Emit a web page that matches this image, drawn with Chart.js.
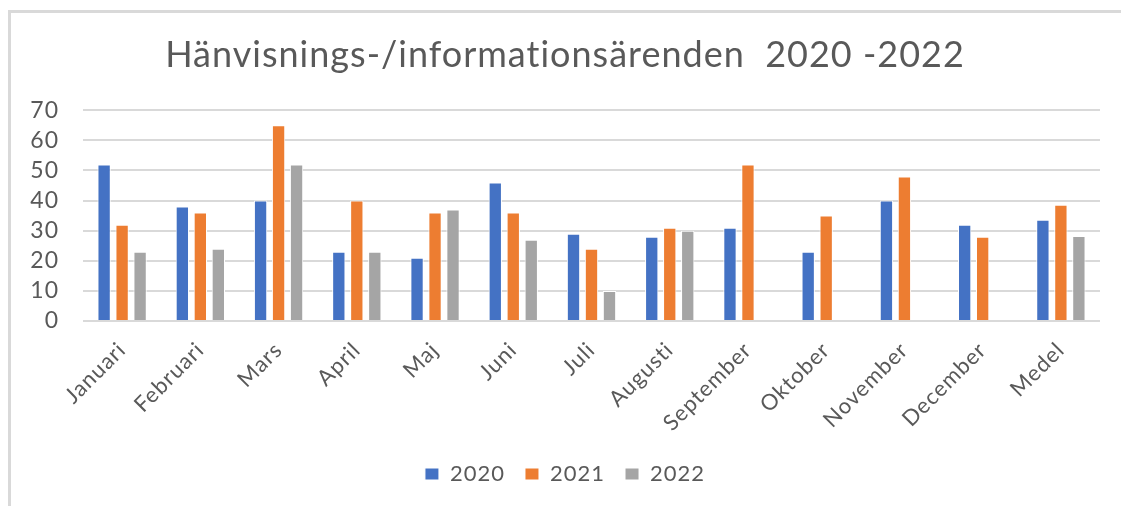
<!DOCTYPE html>
<html>
<head>
<meta charset="utf-8">
<script src="https://cdn.jsdelivr.net/npm/chart.js@4.4.1/dist/chart.umd.min.js"></script>
<style>
  html, body { margin: 0; padding: 0; background: #fff; overflow: hidden; }
  #frame { position: absolute; left: 8px; top: 10px; width: 1200px; height: 600px; border: 3px solid #d9d9d9; box-sizing: border-box; }
  #wrap { position: absolute; left: 0; top: 0; width: 1121px; height: 506px; }
</style>
</head>
<body>
<div id="frame"></div>
<div id="wrap"><canvas id="c" width="1121" height="506"></canvas></div>
<script>
const categories = ["Januari","Februari","Mars","April","Maj","Juni","Juli","Augusti","September","Oktober","November","December","Medel"];
const values2020 = [52, 38, 40, 23, 21, 46, 29, 28, 31, 23, 40, 32, 33.6];
const values2021 = [32, 36, 65, 40, 36, 36, 24, 31, 52, 35, 48, 28, 38.6];
const values2022 = [23, 24, 52, 23, 37, 27, 10, 30, null, null, null, null, 28.25];
const yTicks = [0, 10, 20, 30, 40, 50, 60, 70];
const titleText = "Hänvisnings-/informationsärenden  2020 -2022";

const FONT = "Lato, 'Open Sans', sans-serif";
const TXT = "#595959";

const spacingPlugin = {
  id: 'spacing',
  beforeLayout(chart) { chart.ctx.letterSpacing = '1px'; },
  beforeDraw(chart) { chart.ctx.letterSpacing = '1px'; }
};

new Chart(document.getElementById('c'), {
  type: 'bar',
  plugins: [spacingPlugin],
  data: {
    labels: categories,
    datasets: [
      { label: "2020", data: values2020, backgroundColor: "#4472C4", borderColor: "#ffffff", borderWidth: 1 },
      { label: "2021", data: values2021, backgroundColor: "#ED7D31", borderColor: "#ffffff", borderWidth: 1 },
      { label: "2022", data: values2022, backgroundColor: "#A5A5A5", borderColor: "#ffffff", borderWidth: 1 }
    ]
  },
  options: {
    responsive: false,
    animation: false,
    devicePixelRatio: 1,
    layout: { padding: { left: 30, right: 21, top: 0, bottom: 11 } },
    datasets: { bar: { categoryPercentage: 0.69, barPercentage: 0.74 } },
    plugins: {
      title: {
        display: true,
        text: titleText,
        color: TXT,
        font: { family: FONT, size: 36, weight: 'normal' },
        padding: { top: 34, bottom: 33 }
      },
      legend: {
        position: 'bottom',
        labels: {
          color: TXT,
          font: { family: FONT, size: 22 },
          boxWidth: 14,
          boxHeight: 12,
          padding: 20
        }
      },
      tooltip: { enabled: false }
    },
    scales: {
      x: {
        grid: { display: false },
        border: { display: false },
        ticks: {
          color: TXT,
          font: { family: FONT, size: 22 },
          minRotation: 45,
          maxRotation: 45,
          padding: 8
        },
        afterFit: s => { s.height = 122; }
      },
      y: {
        min: 0,
        max: 70,
        afterBuildTicks: s => { s.ticks = yTicks.map(v => ({ value: v })); },
        grid: { color: "#d9d9d9", lineWidth: 2, drawTicks: false },
        border: { display: false },
        ticks: {
          color: TXT,
          font: { family: FONT, size: 23 },
          padding: 24,
          autoSkip: false
        },
        afterFit: s => { s.width = 53; }
      }
    }
  }
});
</script>
</body>
</html>
